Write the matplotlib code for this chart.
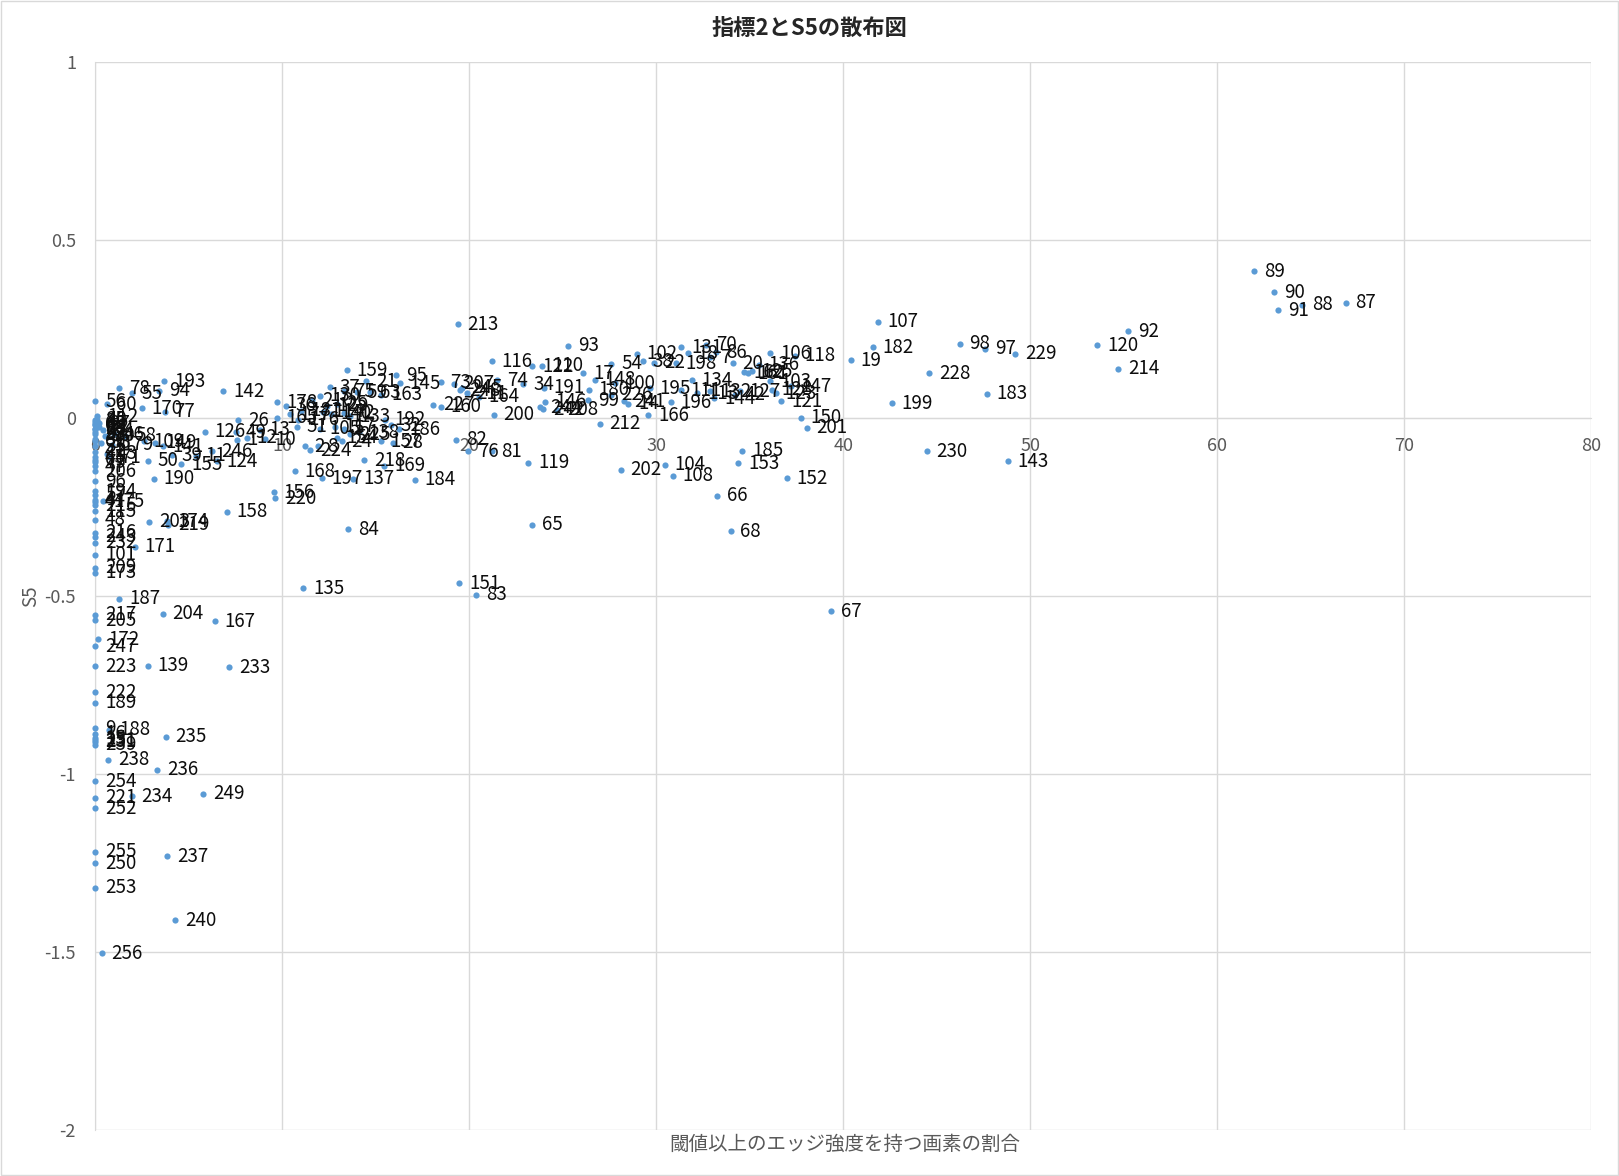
import matplotlib
matplotlib.use("Agg")
import matplotlib.pyplot as plt
from matplotlib.patches import Rectangle

plt.rcParams['font.family'] = ['Noto Sans CJK JP', 'DejaVu Sans']

# ---------- DATA (point id, edge ratio %, S5) ----------
# right side, x > 38
right_ids = [89, 90, 91, 88, 87, 92, 120, 214, 229, 97, 98, 228, 183, 199, 230, 143,
             107, 182, 19, 67, 150, 201]
right_x = [61.99, 63.05, 63.27, 64.55, 66.87, 55.24, 53.6, 54.7, 49.2, 47.6, 46.24, 44.6,
           47.7, 42.6, 44.46, 48.8, 41.85, 41.6, 40.4, 39.34, 37.74, 38.04]
right_y = [0.412, 0.353, 0.302, 0.318, 0.323, 0.243, 0.205, 0.138, 0.181, 0.194, 0.209, 0.126,
           0.068, 0.042, -0.094, -0.122, 0.271, 0.199, 0.162, -0.543, 0.0, -0.028]

# middle, x 18..38
mid_ids = [121, 152, 185, 153, 68, 66, 104, 108, 202, 65,
           119, 81, 76, 82, 200, 213, 93, 116, 122, 110,
           17, 74, 34, 191, 146, 242, 208, 244, 164, 73,
           207, 248, 245, 211, 227, 160, 148, 100, 180, 99,
           226, 241, 14, 212, 166, 196, 195, 111, 113, 132,
           134, 144, 42, 127, 128, 123, 147, 103, 162, 161,
           125, 136, 20, 106, 118, 86, 70, 131, 198, 18,
           7, 102, 54, 38, 22]
mid_x = [36.7, 36.97, 34.6, 34.4, 33.98, 33.26, 30.47, 30.9, 28.1, 23.37,
         23.16, 21.2, 19.95, 19.29, 21.3, 19.39, 25.3, 21.2, 23.37, 23.9,
         26.1, 21.48, 22.9, 24.0, 24.06, 23.96, 24.7, 23.8, 20.5, 18.47,
         19.18, 19.5, 19.6, 19.86, 18.07, 18.47, 26.7, 27.8, 26.4, 26.35,
         27.6, 28.3, 28.5, 26.99, 29.57, 30.77, 29.66, 31.3, 32.2, 32.9,
         31.9, 33.1, 34.2, 34.47, 36.2, 36.4, 37.2, 36.1, 34.7, 34.9,
         35.1, 35.5, 34.1, 36.1, 37.4, 33.2, 32.66, 31.35, 31.05, 31.7,
         32.9, 28.98, 27.6, 29.27, 29.9]
mid_y = [0.047, -0.169, -0.092, -0.127, -0.318, -0.218, -0.131, -0.162, -0.145, -0.3,
         -0.126, -0.094, -0.094, -0.061, 0.009, 0.264, 0.203, 0.159, 0.145, 0.147,
         0.126, 0.106, 0.095, 0.085, 0.046, 0.025, 0.023, 0.03, 0.06, 0.1,
         0.096, 0.078, 0.085, 0.07, 0.037, 0.031, 0.107, 0.098, 0.079, 0.05,
         0.065, 0.047, 0.04, -0.016, 0.007, 0.044, 0.084, 0.078, 0.07, 0.075,
         0.106, 0.055, 0.065, 0.075, 0.08, 0.07, 0.089, 0.103, 0.128, 0.125,
         0.131, 0.15, 0.154, 0.182, 0.175, 0.185, 0.206, 0.199, 0.154, 0.182,
         0.17, 0.181, 0.153, 0.159, 0.155]

# left-middle, x 5..18
lmid_ids = [159, 37, 75, 59, 63, 163, 21, 95, 145, 192,
            32, 186, 157, 28, 24, 218, 169, 184, 137, 197,
            168, 156, 220, 158, 84, 135, 151, 83, 167, 142,
            178, 36, 26, 126, 49, 1, 12, 13, 10, 165,
            176, 51, 130, 210, 25, 129, 114, 72, 140, 133,
            177, 181, 105, 117, 5, 138, 225, 154, 2, 8,
            224, 11, 246, 124]
lmid_x = [13.44, 12.55, 13.3, 14.0, 14.7, 15.3, 14.5, 16.08, 16.3, 15.5,
          15.8, 16.26, 15.26, 15.9, 13.18, 14.37, 15.45, 17.1, 13.8, 12.1,
          10.68, 9.56, 9.63, 7.03, 13.53, 11.12, 19.47, 20.36, 6.4, 6.85,
          9.7, 10.2, 7.65, 5.87, 7.5, 7.6, 8.1, 8.8, 9.1, 9.7,
          10.86, 10.77, 12.0, 11.6, 12.9, 12.4, 12.2, 13.3, 12.6, 13.6,
          10.4, 11.0, 12.0, 12.8, 13.3, 14.1, 13.6, 12.9, 11.2, 11.9,
          11.5, 5.39, 6.22, 6.5]
lmid_y = [0.134, 0.087, 0.075, 0.072, 0.072, 0.065, 0.103, 0.12, 0.098, -0.005,
          -0.02, -0.031, -0.066, -0.07, -0.066, -0.119, -0.134, -0.173, -0.171, -0.169,
          -0.15, -0.208, -0.225, -0.264, -0.312, -0.478, -0.464, -0.497, -0.571, 0.075,
          0.044, 0.035, -0.007, -0.038, -0.04, -0.061, -0.055, -0.033, -0.06, 0.0,
          -0.005, -0.024, 0.062, 0.05, 0.04, 0.035, 0.018, 0.015, 0.012, 0.005,
          0.01, 0.02, -0.03, -0.025, -0.03, -0.04, -0.045, -0.055, -0.08, -0.08,
          -0.09, -0.106, -0.094, -0.122]

# left, x 0..5
left_ids = [56, 60, 78, 55, 193, 94, 170, 77, 112, 179,
            109, 149, 141, 50, 39, 155, 190, 175, 203, 174,
            219, 171, 187, 204, 172, 188, 238, 139, 233, 235,
            236, 234, 249, 237, 240, 256, 46, 58, 71, 43,
            30, 33, 64, 27, 52, 40]
left_x = [0.0, 0.61, 1.28, 1.95, 3.69, 3.4, 2.48, 3.7, 0.1, 0.9,
          2.6, 3.2, 3.6, 2.8, 4.1, 4.6, 3.14, 0.43, 2.89, 3.85,
          3.9, 2.12, 1.28, 3.6, 0.16, 0.75, 0.7, 2.8, 7.17, 3.76,
          3.32, 1.95, 5.78, 3.85, 4.28, 0.34, 1.0, 1.6, 0.8, 0.6,
          0.5, 0.3, 0.4, 0.2, 0.2, 0.1]
left_y = [0.047, 0.039, 0.084, 0.07, 0.103, 0.077, 0.028, 0.018, 0.005, -0.075,
          -0.065, -0.07, -0.08, -0.12, -0.105, -0.13, -0.171, -0.234, -0.292, -0.29,
          -0.3, -0.361, -0.508, -0.55, -0.621, -0.876, -0.96, -0.696, -0.7, -0.896,
          -0.988, -1.063, -1.056, -1.231, -1.411, -1.503, -0.045, -0.05, -0.11, -0.1,
          -0.05, -0.07, -0.035, -0.015, -0.025, -0.005]

# points sitting on x = 0
zero_ids = [217, 205, 247, 223, 222, 189, 9, 16, 15, 251,
            231, 239, 254, 221, 252, 255, 250, 253, 209, 173,
            101, 232, 243, 216, 48, 115, 215, 44, 4, 57,
            194, 96, 206, 47, 79, 61, 45, 41, 35, 69,
            31, 53, 29, 23, 80, 6, 62, 3, 85]
zero_x = [0.0, 0.0, 0.0, 0.0, 0.0, 0.0, 0.0, 0.0, 0.0, 0.0,
          0.0, 0.0, 0.0, 0.0, 0.0, 0.0, 0.0, 0.0, 0.0, 0.0,
          0.0, 0.0, 0.0, 0.0, 0.0, 0.0, 0.0, 0.0, 0.0, 0.0,
          0.0, 0.0, 0.0, 0.0, 0.0, 0.0, 0.0, 0.0, 0.0, 0.0,
          0.0, 0.0, 0.0, 0.0, 0.0, 0.0, 0.0, 0.0, 0.0]
zero_y = [-0.552, -0.568, -0.641, -0.698, -0.77, -0.8, -0.871, -0.887, -0.9, -0.905,
          -0.91, -0.918, -1.021, -1.067, -1.096, -1.219, -1.25, -1.32, -0.42, -0.435,
          -0.384, -0.351, -0.333, -0.323, -0.286, -0.262, -0.245, -0.229, -0.235, -0.215,
          -0.206, -0.178, -0.15, -0.135, -0.125, -0.117, -0.11, -0.095, -0.08, -0.065,
          -0.06, -0.045, -0.04, -0.03, -0.03, -0.02, -0.016, -0.01, -0.005]

x_ticks = [0, 10, 20, 30, 40, 50, 60, 70, 80]
y_ticks = [-2, -1.5, -1, -0.5, 0, 0.5, 1]
y_tick_labels = ['-2', '-1.5', '-1', '-0.5', '0', '0.5', '1']

ids = right_ids + mid_ids + lmid_ids + left_ids + zero_ids
xs = right_x + mid_x + lmid_x + left_x + zero_x
ys = right_y + mid_y + lmid_y + left_y + zero_y

# ---------- PLOT ----------
fig = plt.figure(figsize=(16.19, 11.76), dpi=100)
ax = fig.add_axes([0.0589, 0.0391, 0.9238, 0.9082])

ax.scatter(xs, ys, s=20, color='#5B9BD5', linewidths=0, zorder=3, clip_on=False)
for pid, x, y in zip(ids, xs, ys):
    ax.annotate(str(pid), (x, y), xytext=(7, 0), textcoords='offset points',
                ha='left', va='center', fontsize=13.5, color='#0d0d0d', zorder=4)

ax.set_xlim(0, 80)
ax.set_ylim(-2, 1)
ax.set_xticks(x_ticks)
ax.set_yticks(y_ticks)
ax.set_yticklabels(y_tick_labels)
ax.grid(color='#d9d9d9', linewidth=1)
ax.set_axisbelow(True)

for side in ['top', 'right']:
    ax.spines[side].set_visible(False)
ax.spines['left'].set_color('#d9d9d9')
ax.spines['bottom'].set_color('#d9d9d9')
ax.spines['bottom'].set_position(('data', 0))
ax.tick_params(length=0, labelsize=13, colors='#595959', pad=14)

fig.text(0.5, 0.976, '指標2とS5の散布図', ha='center', va='center',
         fontsize=16, fontweight='bold', color='#262626')
fig.text(0.522, 0.027, '閾値以上のエッジ強度を持つ画素の割合', ha='center', va='center',
         fontsize=14, color='#595959')
fig.text(0.019, 0.493, 'S5', ha='center', va='center', rotation=90,
         fontsize=13.5, color='#595959')

fig.patches.append(Rectangle((0.0005, 0.0005), 0.999, 0.999, transform=fig.transFigure,
                             fill=False, edgecolor='#d9d9d9', linewidth=1))

fig.savefig('out.png', dpi=100)
